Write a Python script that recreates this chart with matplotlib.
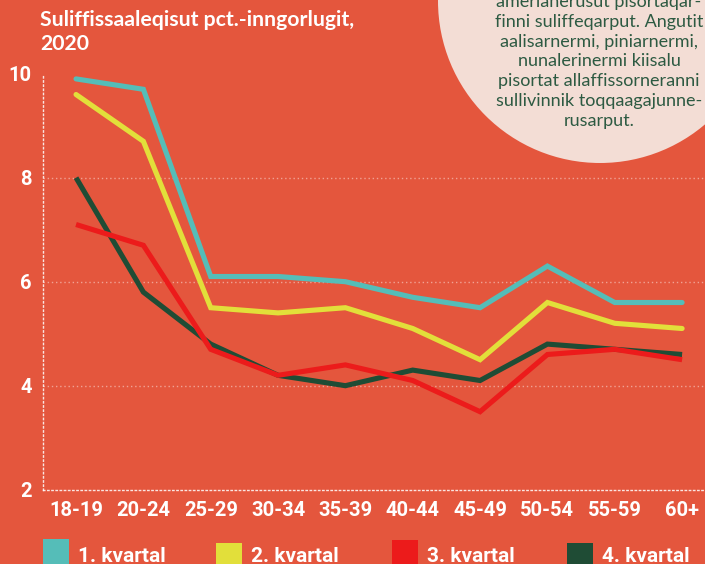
import matplotlib
matplotlib.use("Agg")
from matplotlib import pyplot as plt
from matplotlib.patches import Ellipse, Rectangle
import numpy as np

# age groups and unemployment share (pct.) per quarter, 2020
ages = ["18-19", "20-24", "25-29", "30-34", "35-39", "40-44", "45-49", "50-54", "55-59", "60+"]
q1 = [9.9, 9.7, 6.1, 6.1, 6.0, 5.7, 5.5, 6.3, 5.6, 5.6]
q2 = [9.6, 8.7, 5.5, 5.4, 5.5, 5.1, 4.5, 5.6, 5.2, 5.1]
q3 = [7.1, 6.7, 4.7, 4.2, 4.4, 4.1, 3.5, 4.6, 4.7, 4.5]
q4 = [8.0, 5.8, 4.8, 4.2, 4.0, 4.3, 4.1, 4.8, 4.7, 4.6]
series_names = ["1. kvartal", "2. kvartal", "3. kvartal", "4. kvartal"]
yticks = [2, 4, 6, 8, 10]

title_lines = ["Suliffissaaleqisut pct.-inngorlugit,", "2020"]
note_lines = ["amerlanerusut pisortaqar-",
              "finni suliffeqarput. Angutit",
              "aalisarnermi, piniarnermi,",
              "nunalerinermi kiisalu",
              "pisortat allaffissorneranni",
              "sullivinnik toqqaagajunne-",
              "rusarput."]

bg = "#E4563D"
colors = ["#55BDB8", "#E2DF3A", "#EC1B1B", "#1F4C35"]
caps = ["round", "round", "butt", "butt"]

W, H = 705, 564
fig = plt.figure(figsize=(W / 100, H / 100), dpi=100)
fig.patch.set_facecolor(bg)

ax = fig.add_axes([42.7 / W, 1 - 489.7 / H, 1 - 42.7 / W, (489.7 - 73.7) / H])
ax.set_facecolor(bg)

x = np.arange(len(ages))
for vals, c, cap in zip([q4, q3, q2, q1], colors[::-1], caps[::-1]):
    ax.plot(x, vals, color=c, lw=3.7, solid_capstyle=cap, solid_joinstyle="miter",
            clip_on=False, zorder=3)

ax.set_xlim(-0.495, 9.34)
ax.set_ylim(2, 10)
ax.set_xticks(x)
ax.set_xticklabels(ages)
ax.set_yticks(yticks)
ax.set_yticklabels([str(v) for v in yticks])
ax.tick_params(length=0, colors="white")
ax.tick_params(axis="x", pad=8)
ax.tick_params(axis="y", pad=8)
for lab in ax.get_xticklabels() + ax.get_yticklabels():
    lab.set_fontfamily("Roboto")
    lab.set_fontweight("bold")
    lab.set_fontsize(14.5)

for sp in ["top", "right"]:
    ax.spines[sp].set_visible(False)
for sp in ["left", "bottom"]:
    ax.spines[sp].set_color("white")
    ax.spines[sp].set_linestyle((0, (1, 2)))
    ax.spines[sp].set_linewidth(1)
    ax.spines[sp].set_alpha(0.85)
for v in [4, 6, 8]:
    ax.axhline(v, color="white", alpha=0.45, lw=1, ls=(0, (1, 2)), zorder=1)

# title, two lines
for line, yb in zip(title_lines, [26, 49.5]):
    fig.text(40.5 / W, 1 - yb / H, line, color="white", fontsize=15.3, fontweight="bold",
             family="Lato", va="baseline", ha="left")

# note circle
circ = Ellipse((600 / W, 1 - 1 / H), 2 * 162 / W, 2 * 162 / H, transform=fig.transFigure,
               facecolor="#F3DDD5", edgecolor="none", zorder=5)
fig.patches.append(circ)
for i, line in enumerate(note_lines):
    fig.text(599 / W, 1 - (7 + 19.8 * i) / H, line, color="#2D5A42", fontsize=13,
             family="Lato", ha="center", va="baseline", zorder=6)

# legend
sq_top = [539, 542.5, 540, 542.5]
sq_x = [43, 216, 392, 567]
for name, c, sx, st in zip(series_names, colors, sq_x, sq_top):
    fig.patches.append(Rectangle((sx / W, 0), 25.5 / W, (H - st) / H,
                                 transform=fig.transFigure, facecolor=c, edgecolor="none"))
    fig.text((sx + 35) / W, 1 - 556 / H, name, color="white", fontsize=15,
             fontweight="bold", family="Roboto", ha="left", va="center")

fig.savefig("out.png", dpi=100, facecolor=bg)
